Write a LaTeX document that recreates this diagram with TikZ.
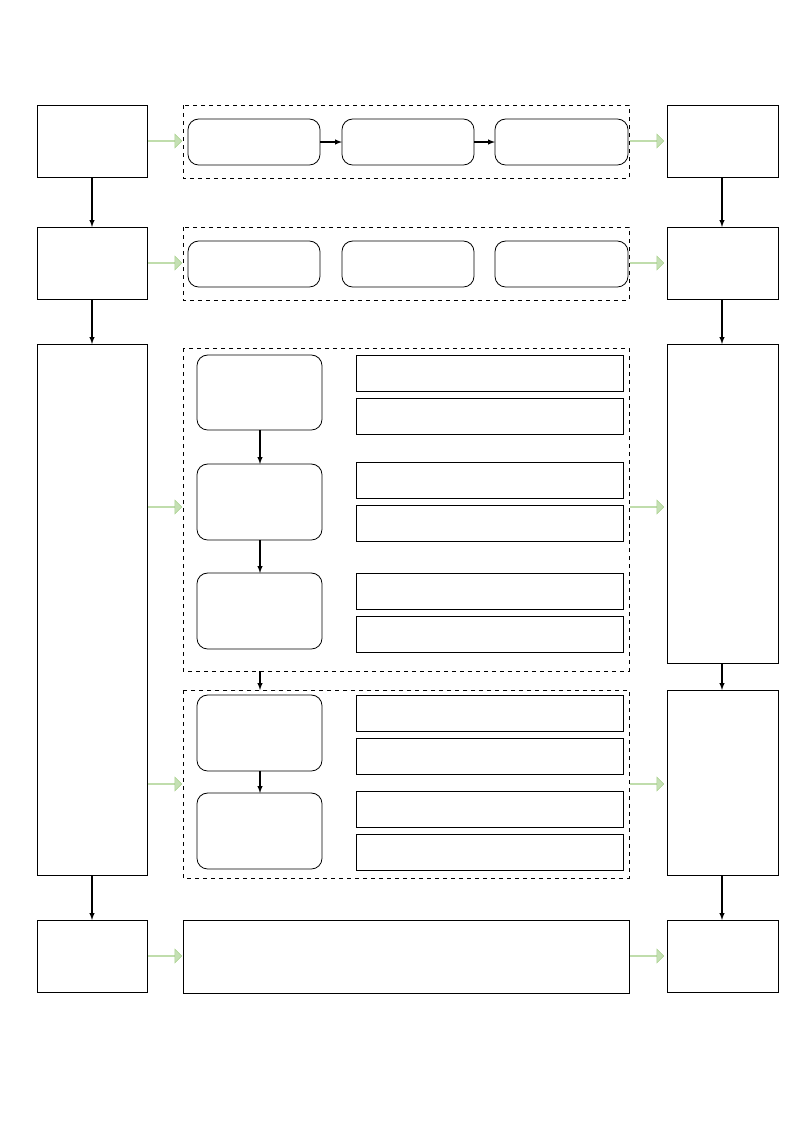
\documentclass[tikz,border=0pt]{standalone}
\usetikzlibrary{positioning, shapes.arrows}

\definecolor{arrowfill}{RGB}{197,224,180}
\definecolor{arrowline}{RGB}{169,209,142}

\begin{document}
\begin{tikzpicture}[
    x=0.75pt, y=-0.75pt,
    box/.style={draw, line width=0.6pt},
    rbox/.style={draw, line width=0.6pt, rounded corners=8pt},
    grp/.style={draw, dashed, line width=0.6pt},
    flow/.style={draw, line width=0.8pt, -latex},
    greenarrow/.style={single arrow, draw=arrowline, fill=arrowfill,
        minimum height=25pt, minimum width=10.5pt, single arrow head extend=4.5pt, inner sep=0pt}
]
\useasboundingbox (0,0) rectangle (793,1122);

% Left column
\draw[box] (37,105) rectangle (147,177);
\draw[box] (37,227) rectangle (147,299);
\draw[box] (37,344) rectangle (147,875);
\draw[box] (37,920) rectangle (147,992);
\coordinate (L1b) at (92,177); \coordinate (L2t) at (92,227);
\coordinate (L2b) at (92,299); \coordinate (L3t) at (92,344);
\coordinate (L3b) at (92,875); \coordinate (L4t) at (92,920);

% Right column
\draw[box] (667,105) rectangle (778,177);
\draw[box] (667,227) rectangle (778,299);
\draw[box] (667,344) rectangle (778,663);
\draw[box] (667,690) rectangle (778,875);
\draw[box] (667,920) rectangle (778,992);
\coordinate (R1b) at (722,177); \coordinate (R2t) at (722,227);
\coordinate (R2b) at (722,299); \coordinate (R3t) at (722,344);
\coordinate (R3b) at (722,663); \coordinate (R4t) at (722,690);
\coordinate (R4b) at (722,875); \coordinate (R5t) at (722,920);

% Groups
\draw[grp] (183,105) rectangle (629,178);
\draw[grp] (183,227) rectangle (629,300);
\draw[grp] (183,348) rectangle (629,671);
\draw[grp] (183,690) rectangle (629,878);
\draw[box] (183,920) rectangle (629,993);
\coordinate (D3b) at (260,671); \coordinate (D4t) at (260,690);

% Rounded boxes, rows 1 and 2
\foreach \xa/\xb in {188/320, 342/474, 495/628} {
    \draw[rbox] (\xa,119) rectangle (\xb,165);
    \draw[rbox] (\xa,241) rectangle (\xb,287);
}
\coordinate (Tar) at (320,142); \coordinate (Tbl) at (342,142);
\coordinate (Tbr) at (474,142); \coordinate (Tcl) at (495,142);

% Tall rounded boxes
\foreach \ya/\yb in {355/430, 464/540, 573/649, 695/771, 793/869}
    \draw[rbox] (197,\ya) rectangle (322,\yb);
\coordinate (S1b) at (260,430); \coordinate (S2t) at (260,464);
\coordinate (S2b) at (260,540); \coordinate (S3t) at (260,573);
\coordinate (S4b) at (260,771); \coordinate (S5t) at (260,793);

% Rectangles
\foreach \ya/\yb in {355/391, 398/434, 462/498, 505/541, 573/609, 616/652, 695/731, 738/774, 791/827, 834/870}
    \draw[box] (356,\ya) rectangle (623,\yb);

% Connectors
\draw[flow] (L1b) -- (L2t);
\draw[flow] (L2b) -- (L3t);
\draw[flow] (L3b) -- (L4t);
\draw[flow] (R1b) -- (R2t);
\draw[flow] (R2b) -- (R3t);
\draw[flow] (R3b) -- (R4t);
\draw[flow] (R4b) -- (R5t);
\draw[flow] (Tar) -- (Tbl);
\draw[flow] (Tbr) -- (Tcl);
\draw[flow] (S1b) -- (S2t);
\draw[flow] (S2b) -- (S3t);
\draw[flow] (D3b) -- (D4t);
\draw[flow] (S4b) -- (S5t);

% Green arrows
\foreach \y in {141, 263, 507, 784, 956} {
    \node[greenarrow] at (165,\y) {};
    \node[greenarrow] at (647,\y) {};
}

\end{tikzpicture}
\end{document}
